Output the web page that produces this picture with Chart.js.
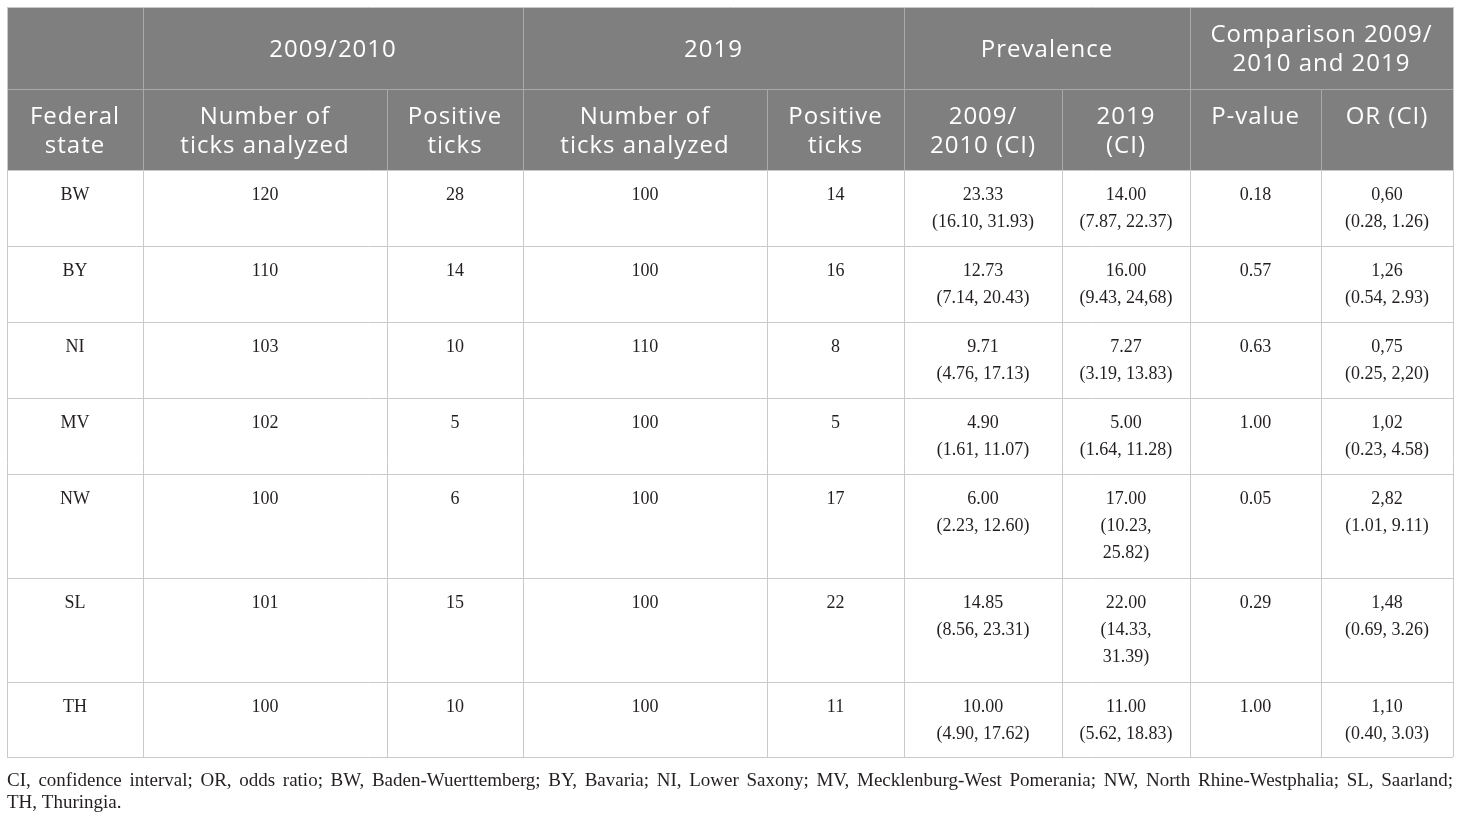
<!DOCTYPE html>
<html>
<head>
<meta charset="utf-8">
<script src="https://cdn.jsdelivr.net/npm/chart.js@4.4.1/dist/chart.umd.min.js"></script>
<style>
  html, body { margin: 0; padding: 0; background: #fff; }
  #wrap { width: 1460px; height: 819px; }
</style>
</head>
<body>
<div id="wrap"><canvas id="tableChart" width="1460" height="819"></canvas></div>
<script>
// table content
const states = ['BW', 'BY', 'NI', 'MV', 'NW', 'SL', 'TH'];
const ticks2009 = [120, 110, 103, 102, 100, 101, 100];
const positive2009 = [28, 14, 10, 5, 6, 15, 10];
const ticks2019 = [100, 100, 110, 100, 100, 100, 100];
const positive2019 = [14, 16, 8, 5, 17, 22, 11];
const prev2009 = ['23.33', '12.73', '9.71', '4.90', '6.00', '14.85', '10.00'];
const ci2009 = ['16.10, 31.93', '7.14, 20.43', '4.76, 17.13', '1.61, 11.07', '2.23, 12.60', '8.56, 23.31', '4.90, 17.62'];
const prev2019 = ['14.00', '16.00', '7.27', '5.00', '17.00', '22.00', '11.00'];
const ci2019 = ['7.87, 22.37', '9.43, 24,68', '3.19, 13.83', '1.64, 11.28', '10.23, 25.82', '14.33, 31.39', '5.62, 18.83'];
const pValues = ['0.18', '0.57', '0.63', '1.00', '0.05', '0.29', '1.00'];
const oddsRatios = ['0,60', '1,26', '0,75', '1,02', '2,82', '1,48', '1,10'];
const orCI = ['0.28, 1.26', '0.54, 2.93', '0.25, 2,20', '0.23, 4.58', '1.01, 9.11', '0.69, 3.26', '0.40, 3.03'];

const groupHeaders = ['', '2009/2010', '2019', 'Prevalence', 'Comparison 2009/\n2010 and 2019'];
const groupSpans = [1, 2, 2, 2, 2];
const columnHeaders = ['Federal\nstate', 'Number of\nticks analyzed', 'Positive\nticks', 'Number of\nticks analyzed', 'Positive\nticks', '2009/\n2010 (CI)', '2019\n(CI)', 'P-value', 'OR (CI)'];
const footnoteLines = [
    'CI, confidence interval; OR, odds ratio; BW, Baden-Wuerttemberg; BY, Bavaria; NI, Lower Saxony; MV, Mecklenburg-West Pomerania; NW, North Rhine-Westphalia; SL, Saarland;',
    'TH, Thuringia.'
];

// layout (scale units)
const colEdges = [7, 143, 387, 523, 767, 904, 1062, 1190, 1321, 1453];
const rowEdges = [7, 89, 170, 246, 322, 398, 474, 578, 682, 757];

const headFont = '24px "Open Sans"';
const bodyFont = '18px "Liberation Serif"';
let footSize = 19;

const bodyRows = states.map((s, i) => [
    s,
    String(ticks2009[i]),
    String(positive2009[i]),
    String(ticks2019[i]),
    String(positive2019[i]),
    prev2009[i] + '\n(' + ci2009[i] + ')',
    prev2019[i] + '\n(' + ci2019[i] + ')',
    pValues[i],
    oddsRatios[i] + '\n(' + orCI[i] + ')'
]);

const wrapText = (ctx, text, maxWidth) => {
    const out = [];
    text.split('\n').forEach(part => {
        const words = part.split(' ');
        let line = '';
        words.forEach(w => {
            const test = line ? line + ' ' + w : w;
            if (line && ctx.measureText(test).width > maxWidth) {
                out.push(line);
                line = w;
            } else {
                line = test;
            }
        });
        out.push(line);
    });
    return out;
};

const tablePlugin = {
    id: 'tableDraw',
    afterDraw(chart) {
        const ctx = chart.ctx;
        const xs = chart.scales.x;
        const ys = chart.scales.y;
        const px = v => xs.getPixelForValue(v);
        const py = v => ys.getPixelForValue(v);
        const left = px(colEdges[0]), right = px(colEdges[colEdges.length - 1]);
        ctx.save();

        // header background
        ctx.fillStyle = '#7f7f7f';
        ctx.fillRect(left, py(rowEdges[0]), right - left, py(rowEdges[2]) - py(rowEdges[0]));

        // header separators
        ctx.strokeStyle = '#a9a9a9';
        ctx.lineWidth = 1;
        ctx.beginPath();
        let c = 0;
        groupSpans.forEach((span, g) => {
            if (g > 0) {
                ctx.moveTo(Math.round(px(colEdges[c])) + 0.5, py(rowEdges[0]));
                ctx.lineTo(Math.round(px(colEdges[c])) + 0.5, py(rowEdges[1]));
            }
            c += span;
        });
        for (let k = 1; k < colEdges.length - 1; k++) {
            ctx.moveTo(Math.round(px(colEdges[k])) + 0.5, py(rowEdges[1]));
            ctx.lineTo(Math.round(px(colEdges[k])) + 0.5, py(rowEdges[2]));
        }
        ctx.moveTo(left, Math.round(py(rowEdges[1])) + 0.5);
        ctx.lineTo(right, Math.round(py(rowEdges[1])) + 0.5);
        ctx.stroke();

        // body grid
        ctx.strokeStyle = '#c9c9c9';
        ctx.beginPath();
        for (let r = 2; r < rowEdges.length; r++) {
            ctx.moveTo(left, Math.round(py(rowEdges[r])) + 0.5);
            ctx.lineTo(right, Math.round(py(rowEdges[r])) + 0.5);
        }
        colEdges.forEach(e => {
            ctx.moveTo(Math.round(px(e)) + 0.5, py(rowEdges[2]));
            ctx.lineTo(Math.round(px(e)) + 0.5, py(rowEdges[rowEdges.length - 1]));
        });
        ctx.moveTo(left + 0.5, py(rowEdges[0]));
        ctx.lineTo(left + 0.5, py(rowEdges[2]));
        ctx.moveTo(right + 0.5, py(rowEdges[0]));
        ctx.lineTo(right + 0.5, py(rowEdges[2]));
        ctx.moveTo(left, Math.round(py(rowEdges[0])) + 0.5);
        ctx.lineTo(right + 1, Math.round(py(rowEdges[0])) + 0.5);
        ctx.stroke();

        // group header text
        ctx.fillStyle = '#ffffff';
        ctx.font = headFont;
        ctx.letterSpacing = '1px';
        ctx.textAlign = 'center';
        ctx.textBaseline = 'middle';
        c = 0;
        groupHeaders.forEach((h, g) => {
            const x0 = px(colEdges[c]), x1 = px(colEdges[c + groupSpans[g]]);
            const lines = h ? h.split('\n') : [];
            const mid = (py(rowEdges[0]) + py(rowEdges[1])) / 2 + 2;
            const lh = 29;
            lines.forEach((ln, k) => {
                ctx.fillText(ln, (x0 + x1) / 2, mid + (k - (lines.length - 1) / 2) * lh);
            });
            c += groupSpans[g];
        });

        // column header text
        columnHeaders.forEach((h, k) => {
            const cx = (px(colEdges[k]) + px(colEdges[k + 1])) / 2;
            h.split('\n').forEach((ln, j) => {
                ctx.fillText(ln, cx, py(rowEdges[1]) + 28 + j * 29);
            });
        });

        // body text
        ctx.letterSpacing = '0px';
        ctx.font = bodyFont;
        ctx.fillStyle = '#231f20';
        bodyRows.forEach((row, r) => {
            const top = py(rowEdges[r + 2]);
            row.forEach((cell, k) => {
                const x0 = px(colEdges[k]), x1 = px(colEdges[k + 1]);
                const lines = wrapText(ctx, cell, x1 - x0 - 30);
                lines.forEach((ln, j) => {
                    ctx.fillText(ln, (x0 + x1) / 2, top + 25 + j * 27);
                });
            });
        });

        // footnote, justified
        ctx.textAlign = 'left';
        const fy = [781, 803];
        const firstWords = footnoteLines[0].split(' ');
        const measureWords = ws => ws.reduce((a, w) => a + ctx.measureText(w).width, 0);
        ctx.font = footSize + 'px "Liberation Serif"';
        while (footSize > 12 && measureWords(firstWords) + 3 * (firstWords.length - 1) > right - left) {
            footSize -= 0.5;
            ctx.font = footSize + 'px "Liberation Serif"';
        }
        footnoteLines.forEach((line, i) => {
            const words = line.split(' ');
            const y = py(fy[i]);
            if (i === footnoteLines.length - 1 || words.length < 2) {
                ctx.fillText(line, left, y);
                return;
            }
            const gap = (right - left - measureWords(words)) / (words.length - 1);
            let x = left;
            words.forEach(w => {
                ctx.fillText(w, x, y);
                x += ctx.measureText(w).width + gap;
            });
        });
        ctx.restore();
    }
};

new Chart('tableChart', {
    type: 'scatter',
    data: { datasets: [] },
    options: {
        responsive: false,
        animation: false,
        devicePixelRatio: 1,
        layout: { padding: 0 },
        plugins: { legend: { display: false }, tooltip: { enabled: false } },
        scales: {
            x: { type: 'linear', min: 0, max: 1460, display: false },
            y: { type: 'linear', min: 0, max: 819, reverse: true, display: false }
        }
    },
    plugins: [tablePlugin]
});
</script>
</body>
</html>
